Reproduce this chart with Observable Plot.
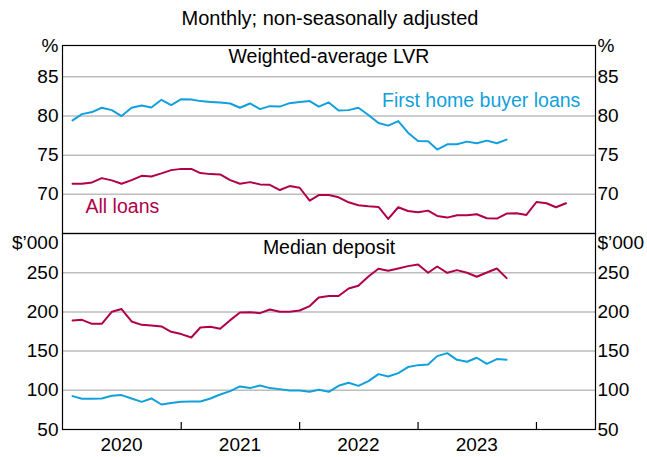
<!DOCTYPE html>
<html><head><meta charset="utf-8">
<script src="https://cdn.jsdelivr.net/npm/d3@7"></script>
<script src="https://cdn.jsdelivr.net/npm/@observablehq/plot@0.6"></script>
<style>
body{margin:0;background:#fff;font-family:"Liberation Sans",Arial,sans-serif;}
#wrap{position:relative;width:647px;height:457px;overflow:hidden;background:#fff}
#sub{position:absolute;top:6px;left:330px;transform:translateX(-50%);white-space:nowrap;font-size:20px;line-height:24px;color:#000}
#top{position:absolute;top:0;left:0}
#bot{position:absolute;top:233px;left:0}
</style></head>
<body><div id="wrap"><div id="top"></div><div id="bot"></div><div id="sub">Monthly; non-seasonally adjusted</div></div>
<script>
// Monthly observations, starting February 2020
const lvrAll = [71.35,71.35,71.52,72.07,71.78,71.35,71.82,72.36,72.28,72.67,
  73.09,73.25,73.25,72.71,72.58,72.54,71.82,71.35,71.56,71.27,
  71.22,70.55,71.05,70.84,69.19,69.91,69.91,69.62,68.98,68.6,
  68.47,68.39,66.86,68.35,67.88,67.71,67.92,67.24,67.03,67.33,
  67.33,67.46,66.95,66.9,67.54,67.59,67.37,69.02,68.86,68.35,68.86];
const lvrFhb = [79.44,80.24,80.5,81.05,80.75,79.99,81.05,81.35,81.09,82.07,
  81.39,82.15,82.1,81.9,81.8,81.73,81.6,81.05,81.6,80.88,
  81.26,81.2,81.64,81.8,81.9,81.2,81.73,80.7,80.75,81.05,
  80.12,79.1,78.77,79.35,77.87,76.81,76.77,75.72,76.39,76.39,76.73,76.52,76.86,76.52,76.99];
const depAll = [189.0,189.9,184.8,184.8,200.1,203.6,187.8,183.5,182.7,181.4,
  174.6,171.7,167.3,180.1,181,178.4,189.5,199.2,199.7,198.4,
  203.1,200.1,200.1,201.8,207.4,218.4,220.2,220.2,229.8,233.3,
  245.2,255,252.4,255.4,258.4,260.5,249.9,257.9,249.9,253.3,249.9,244.8,250.3,255.4,243.1];
const depFhb = [92.6,89.2,89.2,89.6,93.0,93.9,89.6,85.3,89.6,81.9,
  83.7,85.3,85.7,85.7,89.6,94.6,99.0,104.9,102.8,106.1,
  102.8,101.5,99.8,99.8,98.1,100.6,98.1,105.7,109.6,105.7,
  111.7,120.6,117.6,121.9,129.6,132.1,132.9,143.6,147.4,138.9,136.4,141.5,133.8,139.8,138.9];
const lvrTicks = [70, 75, 80, 85];
const depTicks = [50, 100, 150, 200, 250];
const depGrid = [100, 150, 200, 250];
const yearBounds = [2021, 2022, 2023, 2024];
const yearLabels = [2020, 2021, 2022, 2023];

const toSeries = arr => arr.map((v, i) => ({date: d3.utcMonth.offset(new Date(Date.UTC(2020, 1, 1)), i), value: v}));
const BLUE = "#12a0dd", RED = "#b1004a";
const FONT = '"Liberation Sans", Arial, sans-serif';
const W = 647, ML = 62, MR = 52;
const xD = [new Date(Date.UTC(2020,0,1)), new Date(Date.UTC(2024,6,1))];
const gridStyle = {stroke: "#bdbdbd", strokeOpacity: 1, strokeWidth: 1.5};

const topPlot = Plot.plot({
  width: W, height: 233, marginTop: 45, marginBottom: 0, marginLeft: ML, marginRight: MR,
  style: {fontFamily: FONT, fontSize: "19px", color: "#000", background: "transparent", overflow: "visible"},
  x: {type: "utc", domain: xD, axis: null},
  y: {domain: [65, 89], axis: null},
  marks: [
    Plot.gridY(lvrTicks, gridStyle),
    Plot.axisY(lvrTicks, {anchor: "left", label: null, tickSize: 0, tickPadding: 4, fontSize: 19}),
    Plot.axisY(lvrTicks, {anchor: "right", label: null, tickSize: 0, tickPadding: 2, fontSize: 19}),
    Plot.line(toSeries(lvrFhb), {x: "date", y: "value", stroke: BLUE, strokeWidth: 2}),
    Plot.line(toSeries(lvrAll), {x: "date", y: "value", stroke: RED, strokeWidth: 2}),
    Plot.text(["First home buyer loans"], {x: () => new Date(Date.UTC(2022, 8, 12)), y: () => 82, textAnchor: "start", fill: BLUE, fontSize: 19.5}),
    Plot.text(["All loans"], {x: () => new Date(Date.UTC(2020, 2, 12)), y: () => 68.39, textAnchor: "start", fill: RED, fontSize: 19.5}),
    Plot.text(["Weighted-average LVR"], {frameAnchor: "top", lineAnchor: "top", dy: 4, fontSize: 19.5}),
    Plot.text(["%"], {frameAnchor: "top-left", textAnchor: "end", lineAnchor: "middle", dx: -4, fontSize: 19}),
    Plot.text(["%"], {frameAnchor: "top-right", textAnchor: "start", lineAnchor: "middle", dx: 2, fontSize: 19}),
    Plot.frame({stroke: "#000", strokeWidth: 1.2})
  ]
});

const botPlot = Plot.plot({
  width: W, height: 224, marginTop: 0, marginBottom: 28, marginLeft: ML, marginRight: MR,
  style: {fontFamily: FONT, fontSize: "19px", color: "#000", background: "transparent", overflow: "visible"},
  x: {type: "utc", domain: xD, label: null},
  y: {domain: [50, 300], axis: null},
  marks: [
    Plot.gridY(depGrid, gridStyle),
    Plot.axisY(depTicks, {anchor: "left", label: null, tickSize: 0, tickPadding: 4, fontSize: 19}),
    Plot.axisY(depTicks, {anchor: "right", label: null, tickSize: 0, tickPadding: 2, fontSize: 19}),
    Plot.axisX(yearBounds.map(y => new Date(Date.UTC(y, 0, 1))), {anchor: "bottom", label: null, tickSize: -7, tickFormat: () => "", stroke: "#000", strokeWidth: 1.2}),
    Plot.axisX(yearLabels.map(y => new Date(Date.UTC(y, 6, 1))), {anchor: "bottom", label: null, tickSize: 0, tickPadding: 8, tickFormat: d3.utcFormat("%Y"), fontSize: 19}),
    Plot.line(toSeries(depAll), {x: "date", y: "value", stroke: RED, strokeWidth: 2}),
    Plot.line(toSeries(depFhb), {x: "date", y: "value", stroke: BLUE, strokeWidth: 2}),
    Plot.text(["Median deposit"], {frameAnchor: "top", lineAnchor: "top", dy: 7, fontSize: 19.5}),
    Plot.text(["$\u2019000"], {frameAnchor: "top-left", textAnchor: "end", lineAnchor: "middle", dx: -4, dy: 9, fontSize: 19}),
    Plot.text(["$\u2019000"], {frameAnchor: "top-right", textAnchor: "start", lineAnchor: "middle", dx: 2, dy: 9, fontSize: 19}),
    Plot.frame({stroke: "#000", strokeWidth: 1.2})
  ]
});

document.getElementById("top").appendChild(topPlot);
document.getElementById("bot").appendChild(botPlot);
</script>
</body></html>
